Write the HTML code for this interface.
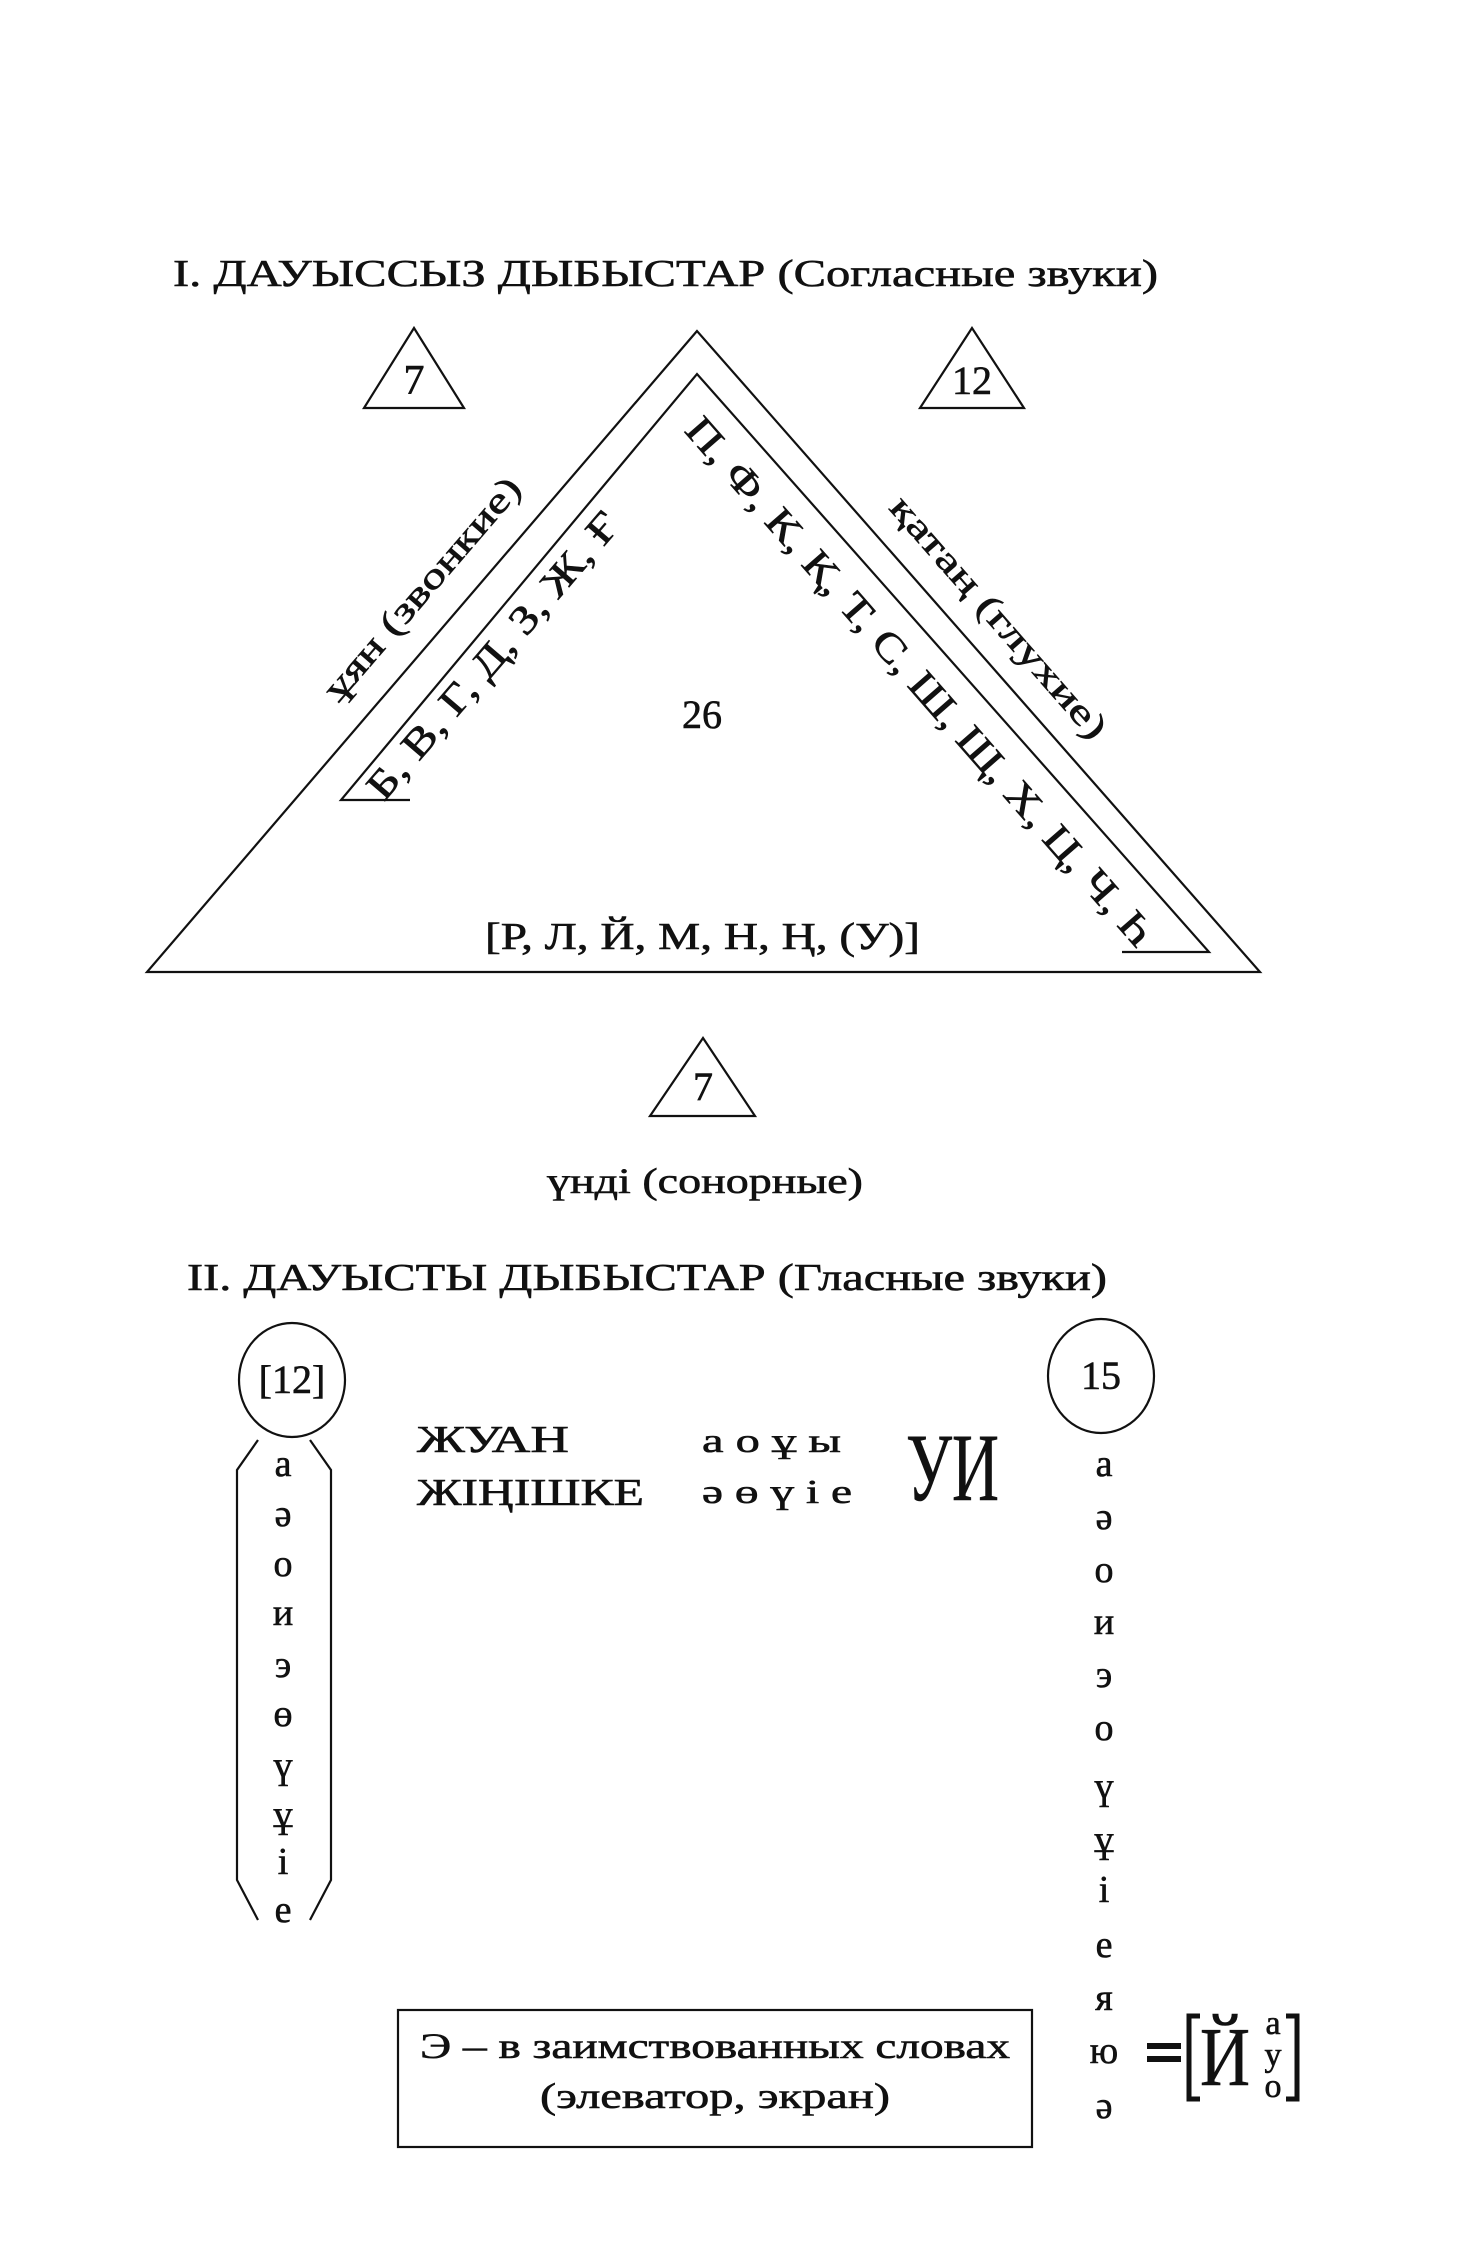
<!DOCTYPE html>
<html><head><meta charset="utf-8"><style>
html,body{margin:0;padding:0;background:#fff;}
svg{display:block;}
text{font-family:"Liberation Serif","DejaVu Serif",serif;fill:#111;stroke:#111;stroke-width:0.6;}
</style></head><body>
<svg width="1458" height="2252" viewBox="0 0 1458 2252" xmlns="http://www.w3.org/2000/svg">
<g fill="none" stroke="#111" stroke-width="2.2">
<polygon points="697,331 147,972 1260,972"/>
<polyline points="410,800 341,800 697,374 1209,952 1122,952"/>
<polygon points="414,328 364,408 464,408"/>
<polygon points="972,328 920,408 1024,408"/>
<polygon points="703,1038 650,1116 755,1116"/>
<ellipse cx="292" cy="1380" rx="53" ry="57"/>
<ellipse cx="1101" cy="1376" rx="53" ry="57"/>
<polyline points="258,1440 237,1470 237,1880 258,1920"/>
<polyline points="310,1440 331,1470 331,1880 310,1920"/>
<rect x="398" y="2010" width="634" height="137"/>
</g>
<text x="173" y="286" font-size="38" textLength="985" lengthAdjust="spacingAndGlyphs">I. ДАУЫССЫЗ ДЫБЫСТАР (Согласные звуки)</text>
<text x="414" y="394" font-size="42" text-anchor="middle">7</text>
<text x="972" y="394" font-size="40" text-anchor="middle">12</text>
<text x="703" y="1100" font-size="40" text-anchor="middle">7</text>
<text x="702" y="728" font-size="40" text-anchor="middle">26</text>
<text x="485" y="949" font-size="38" textLength="435" lengthAdjust="spacingAndGlyphs">[Р, Л, Й, М, Н, Ң, (У)]</text>
<text transform="translate(431,596) rotate(-49.3)" font-size="36" text-anchor="middle" textLength="282" lengthAdjust="spacingAndGlyphs">ұян (звонкие)</text>
<text transform="translate(503,664) rotate(-49.3)" font-size="40" text-anchor="middle" textLength="365" lengthAdjust="spacingAndGlyphs">Б, В, Г, Д, З, Ж, Ғ</text>
<text transform="translate(910,690) rotate(48.8)" font-size="40" text-anchor="middle" textLength="688" lengthAdjust="spacingAndGlyphs">П, Ф, К, Қ, Т, С, Ш, Щ, Х, Ц, Ч, Һ</text>
<text transform="translate(990,625) rotate(48.8)" font-size="36" text-anchor="middle" textLength="310" lengthAdjust="spacingAndGlyphs">қатаң (глухие)</text>
<text x="705" y="1193" font-size="36" text-anchor="middle" textLength="316" lengthAdjust="spacingAndGlyphs">үнді (сонорные)</text>
<text x="187" y="1290" font-size="38" textLength="920" lengthAdjust="spacingAndGlyphs">II. ДАУЫСТЫ ДЫБЫСТАР (Гласные звуки)</text>
<text x="292" y="1393" font-size="40" text-anchor="middle">[12]</text>
<text x="1101" y="1389" font-size="40" text-anchor="middle">15</text>
<g font-size="38" text-anchor="middle">
<text x="283" y="1476">а</text><text x="283" y="1526">ə</text><text x="283" y="1576">о</text><text x="283" y="1625">и</text><text x="283" y="1677">э</text><text x="283" y="1726">ө</text><text x="283" y="1778">ү</text><text x="283" y="1827">ұ</text><text x="283" y="1874">і</text><text x="283" y="1922">е</text>
<text x="1104" y="1476">а</text><text x="1104" y="1529">ə</text><text x="1104" y="1582">о</text><text x="1104" y="1634">и</text><text x="1104" y="1687">э</text><text x="1104" y="1740">о</text><text x="1104" y="1799">ү</text><text x="1104" y="1852">ұ</text><text x="1104" y="1902">і</text><text x="1104" y="1957">е</text><text x="1104" y="2010">я</text><text x="1104" y="2063">ю</text><text x="1104" y="2118">ə</text>
</g>
<text x="417" y="1452" font-size="38" textLength="152" lengthAdjust="spacingAndGlyphs">ЖУАН</text>
<text x="417" y="1505" font-size="38" textLength="227" lengthAdjust="spacingAndGlyphs">ЖІҢІШКЕ</text>
<text x="702" y="1452" font-size="34" textLength="139" lengthAdjust="spacingAndGlyphs">а о ұ ы</text>
<text x="702" y="1503" font-size="34" textLength="150" lengthAdjust="spacingAndGlyphs">ə ө ү і е</text>
<text x="906" y="1500" font-size="96" textLength="93" lengthAdjust="spacingAndGlyphs" stroke-width="3">УИ</text>
<text x="715" y="2058" font-size="36" text-anchor="middle" textLength="590" lengthAdjust="spacingAndGlyphs">Э – в заимствованных словах</text>
<text x="715" y="2108" font-size="36" text-anchor="middle" textLength="350" lengthAdjust="spacingAndGlyphs">(элеватор, экран)</text>
<rect x="1147" y="2043" width="34" height="6" fill="#111"/>
<rect x="1147" y="2056" width="34" height="6" fill="#111"/>
<polyline points="1200,2016 1189,2016 1189,2099 1200,2099" fill="none" stroke="#111" stroke-width="5"/>
<polyline points="1286,2016 1297,2016 1297,2099 1286,2099" fill="none" stroke="#111" stroke-width="5"/>
<text x="1200" y="2085" font-size="84" textLength="50" lengthAdjust="spacingAndGlyphs" stroke-width="2">Й</text>
<g font-size="34" text-anchor="middle"><text x="1273" y="2034">а</text><text x="1273" y="2066">у</text><text x="1273" y="2097">о</text></g>
</svg>
</body></html>
